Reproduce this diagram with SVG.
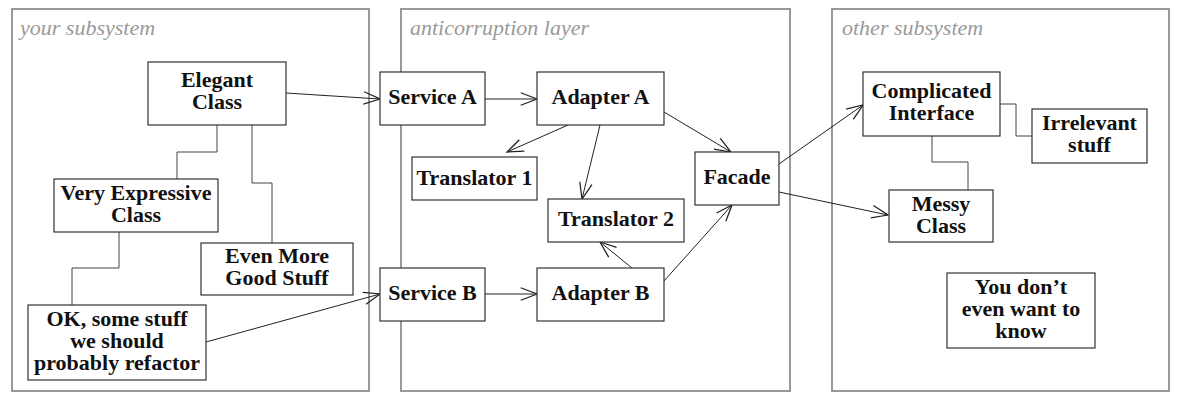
<svg xmlns="http://www.w3.org/2000/svg" width="1181" height="402" viewBox="0 0 1181 402">
<style>
.bg{fill:#fff}
.cont{fill:#fff;stroke:#999;stroke-width:2}
.title{font-family:"Liberation Serif",serif;font-style:italic;font-size:22px;fill:#999}
.node rect{fill:#fff;stroke:#333;stroke-width:1.2}
.node text{font-family:"Liberation Serif",serif;font-weight:bold;font-size:22px;fill:#111;text-anchor:middle}
.link{fill:none;stroke:#444;stroke-width:1}
.arrow{fill:none;stroke:#222;stroke-width:1;marker-end:url(#open)}
</style>
<defs>
<marker id="open" markerUnits="userSpaceOnUse" markerWidth="20" markerHeight="20" viewBox="-14 -8 16 16" refX="0" refY="0" orient="auto">
<path d="M-13,-5 L0,0 L-13,5" fill="none" stroke="#222" stroke-width="1"/>
</marker>
</defs>
<rect class="bg" x="0" y="0" width="1181" height="402"/>
<g id="containers">
<rect class="cont" x="12" y="9" width="357" height="382"/>
<text class="title" x="20" y="35">your subsystem</text>
<rect class="cont" x="401" y="9" width="389" height="382"/>
<text class="title" x="410" y="35">anticorruption layer</text>
<rect class="cont" x="832" y="9" width="337" height="382"/>
<text class="title" x="842" y="35">other subsystem</text>
</g>
<g id="connectors">
<polyline class="link" points="217,125 217,152 177,152 177,179"/>
<polyline class="link" points="252,125 252,183 272,183 272,243"/>
<polyline class="link" points="119,232 119,268 72,268 72,305"/>
<polyline class="link" points="1000,104 1016,104 1016,136 1032,136"/>
<polyline class="link" points="932,136 932,162 968,162 968,190"/>
<line class="arrow" x1="286" y1="93" x2="380" y2="99"/>
<line class="arrow" x1="206" y1="342" x2="380" y2="294"/>
<line class="arrow" x1="485" y1="99" x2="537" y2="99"/>
<line class="arrow" x1="485" y1="294" x2="537" y2="294"/>
<line class="arrow" x1="568" y1="125" x2="507" y2="152"/>
<line class="arrow" x1="600" y1="125" x2="582" y2="199"/>
<line class="arrow" x1="664" y1="112" x2="731" y2="152"/>
<line class="arrow" x1="632" y1="268" x2="600" y2="242"/>
<line class="arrow" x1="664" y1="281" x2="732" y2="205"/>
<line class="arrow" x1="779" y1="164" x2="863" y2="105"/>
<line class="arrow" x1="779" y1="192" x2="888" y2="215"/>
</g>
<g id="elegant-class" class="node"><rect x="148" y="62" width="138" height="63"/><text x="217" y="87">Elegant</text><text x="217" y="109">Class</text></g>
<g id="very-expressive-class" class="node"><rect x="54" y="179" width="164" height="53"/><text x="136" y="200">Very Expressive</text><text x="136" y="222">Class</text></g>
<g id="even-more-good-stuff" class="node"><rect x="201" y="243" width="152" height="52"/><text x="277" y="263">Even More</text><text x="277" y="285">Good Stuff</text></g>
<g id="ok-some-stuff" class="node"><rect x="28" y="305" width="178" height="75"/><text x="117" y="326">OK, some stuff</text><text x="117" y="348">we should</text><text x="117" y="370">probably refactor</text></g>
<g id="service-a" class="node"><rect x="380" y="72" width="105" height="53"/><text x="432.5" y="104">Service A</text></g>
<g id="adapter-a" class="node"><rect x="537" y="72" width="127" height="53"/><text x="600.5" y="104">Adapter A</text></g>
<g id="translator-1" class="node"><rect x="412" y="157" width="125" height="43"/><text x="474.5" y="185">Translator 1</text></g>
<g id="translator-2" class="node"><rect x="548" y="199" width="136" height="43"/><text x="616" y="226">Translator 2</text></g>
<g id="facade" class="node"><rect x="695" y="152" width="84" height="53"/><text x="737" y="184">Facade</text></g>
<g id="service-b" class="node"><rect x="380" y="268" width="105" height="53"/><text x="432.5" y="300">Service B</text></g>
<g id="adapter-b" class="node"><rect x="537" y="268" width="127" height="53"/><text x="600.5" y="300">Adapter B</text></g>
<g id="complicated-interface" class="node"><rect x="863" y="72" width="137" height="64"/><text x="931.5" y="98">Complicated</text><text x="931.5" y="120">Interface</text></g>
<g id="irrelevant-stuff" class="node"><rect x="1032" y="109" width="115" height="54"/><text x="1089.5" y="130">Irrelevant</text><text x="1089.5" y="152">stuff</text></g>
<g id="messy-class" class="node"><rect x="889" y="190" width="104" height="52"/><text x="941" y="211">Messy</text><text x="941" y="233">Class</text></g>
<g id="you-dont-even-want-to-know" class="node"><rect x="947" y="273" width="148" height="75"/><text x="1021" y="294">You don’t</text><text x="1021" y="316">even want to</text><text x="1021" y="338">know</text></g>
</svg>
